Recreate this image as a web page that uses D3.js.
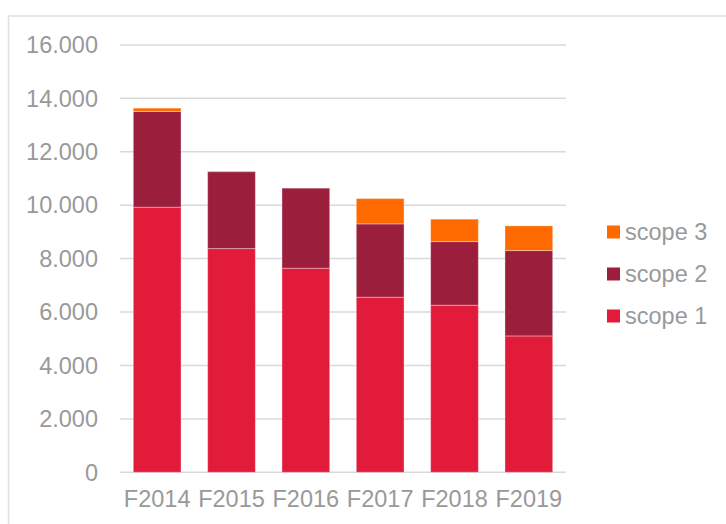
<!DOCTYPE html>
<html>
<head>
<meta charset="utf-8">
<script src="https://cdn.jsdelivr.net/npm/d3@7"></script>
<style>
  body { margin: 0; background: #fff; }
  text { font-family: "Liberation Sans", Arial, sans-serif; fill: #999999; }
</style>
</head>
<body>
<div id="chart"></div>
<script>
// values
let years = ["F2014", "F2015", "F2016", "F2017", "F2018", "F2019"];
let scope1 = [9925, 8375, 7640, 6554, 6255, 5105];
let scope2 = [3581, 2880, 2997, 2746, 2382, 3195];
let scope3 = [127, 20, 0, 947, 839, 925];
let seriesNames = ["scope 1", "scope 2", "scope 3"];
let seriesColors = ["#e31b3a", "#9b1e3c", "#ff6a00"];
let yTicks = [0, 2000, 4000, 6000, 8000, 10000, 12000, 14000, 16000];

function getConfig() {
  let width = 726;
  let height = 524;
  let margin = { top: 45, bottom: 52, left: 120, right: 160 };
  let bodyHeight = height - margin.top - margin.bottom;
  let bodyWidth = width - margin.left - margin.right;
  let container = d3.select("#chart").append("svg")
    .attr("width", width)
    .attr("height", height);
  return { width, height, margin, bodyHeight, bodyWidth, container };
}

function getScales(config) {
  let { margin } = config;
  let xScale = d3.scaleBand()
    .domain(years)
    .range([margin.left, margin.left + 446])
    .paddingInner(0.358)
    .paddingOuter(0.179);
  let yScale = d3.scaleLinear()
    .domain([0, 16000])
    .range([472.3, 44.9]);
  return { xScale, yScale };
}

function drawChart() {
  let config = getConfig();
  let { container } = config;
  let { xScale, yScale } = getScales(config);
  let fontSize = "23.5px";

  // outer frame of the chart area
  container.append("rect")
    .attr("x", 8.5).attr("y", 16)
    .attr("width", 740).attr("height", 540)
    .attr("fill", "none")
    .attr("stroke", "#e0e0e0")
    .attr("stroke-width", 1.5);

  // gridlines
  container.append("g")
    .selectAll("line")
    .data(yTicks)
    .enter().append("line")
      .attr("x1", 120).attr("x2", 566)
      .attr("y1", d => yScale(d)).attr("y2", d => yScale(d))
      .attr("stroke", "#d9d9d9")
      .attr("stroke-width", 1.5);

  // y tick labels
  let fmt = d => d === 0 ? "0" : d3.format(",")(d).replace(/,/g, ".");
  container.append("g")
    .selectAll("text")
    .data(yTicks)
    .enter().append("text")
      .attr("x", 98)
      .attr("y", d => yScale(d))
      .attr("dy", "0.35em")
      .attr("text-anchor", "end")
      .style("font-size", fontSize)
      .text(fmt);

  // stacked bars
  let table = years.map((y, i) => ({ year: y, s1: scope1[i], s2: scope2[i], s3: scope3[i] }));
  let stack = d3.stack().keys(["s1", "s2", "s3"])(table);

  container.append("g")
    .selectAll("g")
    .data(stack)
    .enter().append("g")
      .attr("fill", (d, i) => seriesColors[i])
    .selectAll("rect")
    .data(d => d.filter(v => v[1] - v[0] > 0))
    .enter().append("rect")
      .attr("x", d => xScale(d.data.year))
      .attr("width", xScale.bandwidth())
      .attr("y", d => yScale(d[1]))
      .attr("height", d => yScale(d[0]) - yScale(d[1]))
      .attr("stroke", "#ffffff")
      .attr("stroke-opacity", 0.35)
      .attr("stroke-width", 1);

  // x labels
  container.append("g")
    .selectAll("text")
    .data(years)
    .enter().append("text")
      .attr("x", d => xScale(d) + xScale.bandwidth() / 2)
      .attr("y", 507)
      .attr("text-anchor", "middle")
      .style("font-size", fontSize)
      .text(d => d);

  // legend, scope 3 on top
  let legendRows = [2, 1, 0];
  let legend = container.append("g")
    .selectAll("g")
    .data(legendRows)
    .enter().append("g")
      .attr("transform", (d, i) => "translate(607," + (232 + i * 42) + ")");
  legend.append("rect")
    .attr("x", 0).attr("y", -6.5)
    .attr("width", 13).attr("height", 13)
    .attr("fill", d => seriesColors[d]);
  legend.append("text")
    .attr("x", 18)
    .attr("y", 0)
    .attr("dy", "0.35em")
    .style("font-size", fontSize)
    .text(d => seriesNames[d]);
}

drawChart();
</script>
</body>
</html>
